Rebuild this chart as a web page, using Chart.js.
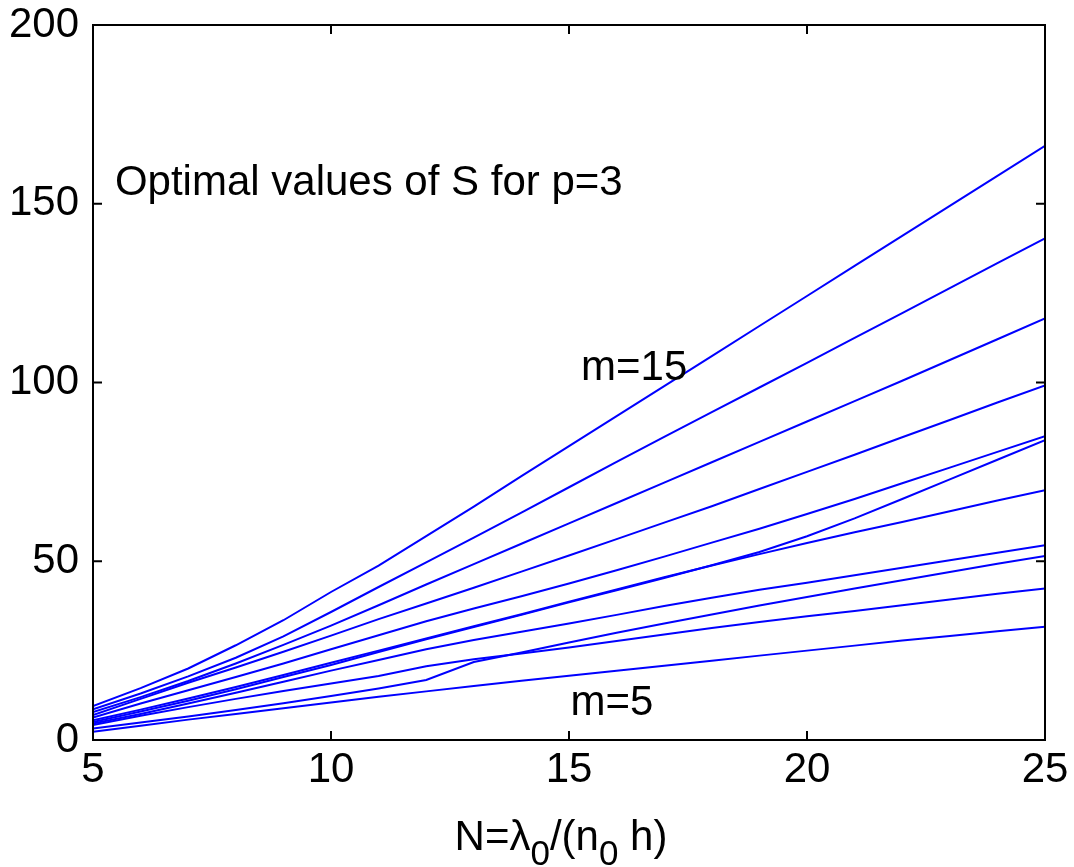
<!DOCTYPE html>
<html>
<head>
<meta charset="utf-8">
<script src="https://cdn.jsdelivr.net/npm/chart.js@4.4.1/dist/chart.umd.min.js"></script>
<style>
  html, body { margin: 0; padding: 0; background: #fff; }
  #wrap { width: 1074px; height: 867px; }
</style>
</head>
<body>
<div id="wrap"><canvas id="sChart" width="1074" height="867"></canvas></div>
<script>
// N = lambda0/(n0 h) sample points
var nValues = [5, 6, 7, 8, 9, 10, 11, 12, 13, 14, 15, 16, 17, 18, 19, 20, 21, 22, 23, 24, 25];

// optimal S for each stencil size m (p = 3)
var sM15 = [9.5, 14.5, 20.0, 26.5, 33.5, 41.4, 48.8, 57.0, 65.3, 73.8, 82.2, 90.6, 99.0, 107.4, 115.8, 124.2, 132.6, 141.0, 149.4, 157.8, 166.2];
var sM14 = [8.6, 13.0, 17.8, 23.0, 29.0, 35.8, 42.8, 49.7, 56.6, 63.6, 70.7, 77.8, 84.8, 91.7, 98.6, 105.5, 112.5, 119.4, 126.4, 133.4, 140.3];
var sM13 = [7.8, 12.0, 16.5, 21.4, 26.6, 32.0, 37.7, 43.5, 49.2, 54.9, 60.6, 66.3, 72.0, 77.7, 83.4, 89.1, 94.8, 100.5, 106.3, 112.1, 117.9];
var sM12 = [7.0, 11.5, 16.0, 20.3, 24.7, 29.2, 33.8, 38.2, 42.6, 47.1, 51.6, 56.2, 60.8, 65.4, 70.2, 75.0, 79.8, 84.7, 89.5, 94.4, 99.2];
var sM11 = [6.3, 10.2, 13.9, 17.6, 21.4, 25.4, 29.3, 33.2, 36.8, 40.2, 43.8, 47.5, 51.3, 55.2, 59.1, 63.2, 67.4, 71.8, 76.2, 80.6, 85.0];
var sM10 = [5.0, 8.0, 11.0, 14.2, 17.6, 21.0, 24.6, 28.2, 31.6, 35.0, 38.5, 41.9, 45.3, 48.9, 52.6, 57.0, 62.0, 67.4, 72.9, 78.4, 83.9];
var sM9  = [5.5, 8.5, 11.6, 14.8, 18.2, 21.6, 25.0, 28.4, 31.8, 35.2, 38.7, 42.1, 45.5, 48.8, 52.0, 55.1, 58.1, 61.0, 64.0, 67.0, 69.9];
var sM8  = [4.6, 7.3, 10.2, 13.2, 16.3, 19.4, 22.4, 25.4, 28.0, 30.3, 32.6, 35.0, 37.5, 39.8, 42.0, 44.0, 46.1, 48.2, 50.3, 52.4, 54.5];
var sM7  = [3.2, 4.9, 6.6, 8.4, 10.3, 12.3, 14.4, 16.8, 21.8, 24.5, 27.3, 30.0, 32.6, 35.1, 37.6, 40.0, 42.4, 44.7, 47.0, 49.3, 51.5];
var sM6  = [4.2, 6.8, 9.2, 11.5, 13.7, 15.8, 17.9, 20.6, 22.6, 24.2, 25.9, 27.7, 29.5, 31.3, 33.0, 34.6, 36.1, 37.7, 39.3, 40.9, 42.4];
var sM5  = [2.3, 4.0, 5.7, 7.3, 8.9, 10.5, 12.1, 13.6, 15.1, 16.6, 18.0, 19.4, 20.8, 22.2, 23.6, 25.0, 26.4, 27.8, 29.1, 30.4, 31.7];

var seriesNames = ["m=15", "m=14", "m=13", "m=12", "m=11", "m=10", "m=9", "m=8", "m=7", "m=6", "m=5"];
var seriesVals = [sM15, sM14, sM13, sM12, sM11, sM10, sM9, sM8, sM7, sM6, sM5];

var xTicks = [5, 10, 15, 20, 25];
var yTicks = [0, 50, 100, 150, 200];

var FONT = "'Liberation Sans', Arial, Helvetica, sans-serif";

var datasets = [];
for (var i = 0; i < seriesVals.length; i++) {
	var pts = [];
	for (var j = 0; j < nValues.length; j++) {
		pts.push({x: nValues[j], y: seriesVals[i][j]});
	}
	datasets.push({
		label: seriesNames[i],
		data: pts,
		borderColor: "#0000ff",
		borderWidth: 2,
		pointRadius: 0,
		fill: false,
		tension: 0
	});
}

// box, inward ticks on every side, axis label and text notes
var framePlugin = {
	id: "frame",
	afterDraw: function(chart) {
		var ctx = chart.ctx;
		var a = chart.chartArea;
		var xs = chart.scales.x, ys = chart.scales.y;
		ctx.save();
		ctx.strokeStyle = "#000";
		ctx.lineWidth = 2;
		ctx.strokeRect(a.left, a.top, a.right - a.left, a.bottom - a.top);

		var tl = 9;
		ctx.beginPath();
		xTicks.forEach(function(v) {
			var px = xs.getPixelForValue(v);
			ctx.moveTo(px, a.bottom); ctx.lineTo(px, a.bottom - tl);
			ctx.moveTo(px, a.top); ctx.lineTo(px, a.top + tl);
		});
		yTicks.forEach(function(v) {
			var py = ys.getPixelForValue(v);
			ctx.moveTo(a.left, py); ctx.lineTo(a.left + tl, py);
			ctx.moveTo(a.right, py); ctx.lineTo(a.right - tl, py);
		});
		ctx.stroke();

		ctx.fillStyle = "#000";
		ctx.textBaseline = "alphabetic";

		// x axis label with subscripts
		var parts = [["N=\u03bb", 0], ["0", 1], ["/(n", 0], ["0", 1], [" h)", 0]];
		var total = 0;
		parts.forEach(function(p) {
			ctx.font = (p[1] ? "35px " : "42px ") + FONT;
			total += ctx.measureText(p[0]).width;
		});
		var cx = (a.left + a.right) / 2 - 8;
		var x0 = cx - total / 2;
		var base = 850;
		ctx.textAlign = "left";
		parts.forEach(function(p) {
			ctx.font = (p[1] ? "35px " : "42px ") + FONT;
			ctx.fillText(p[0], x0, p[1] ? base + 15 : base);
			x0 += ctx.measureText(p[0]).width;
		});

		// notes inside the axes
		ctx.font = "42px " + FONT;
		ctx.textAlign = "left";
		ctx.fillText("Optimal values of S for p=3", xs.getPixelForValue(5.46), ys.getPixelForValue(152.4));
		ctx.textAlign = "center";
		ctx.fillText("m=15", xs.getPixelForValue(16.37), ys.getPixelForValue(100.7));
		ctx.fillText("m=5", xs.getPixelForValue(15.9), ys.getPixelForValue(7.0));
		ctx.restore();
	}
};

var ctx1 = document.getElementById("sChart");
var chart1 = new Chart(ctx1, {
	type: "line",
	data: { datasets: datasets },
	options: {
		responsive: false,
		animation: false,
		devicePixelRatio: 1,
		layout: { padding: { left: 0, top: 25, right: 29, bottom: 0 } },
		plugins: {
			legend: { display: false },
			tooltip: { enabled: false },
			title: { display: false }
		},
		scales: {
			x: {
				type: "linear",
				min: 5,
				max: 25,
				afterFit: function(s) { s.height = 127; s.paddingLeft = 0; s.paddingRight = 0; },
				afterBuildTicks: function(s) { s.ticks = xTicks.map(function(v) { return {value: v}; }); },
				grid: { display: false, drawTicks: false },
				border: { display: false },
				ticks: { color: "#000", font: { size: 42, family: FONT }, padding: 5, maxRotation: 0 }
			},
			y: {
				type: "linear",
				min: 0,
				max: 200,
				afterFit: function(s) { s.width = 93; s.paddingTop = 0; s.paddingBottom = 0; },
				afterBuildTicks: function(s) { s.ticks = yTicks.map(function(v) { return {value: v}; }); },
				grid: { display: false, drawTicks: false },
				border: { display: false },
				ticks: { color: "#000", font: { size: 42, family: FONT }, padding: 14 }
			}
		}
	},
	plugins: [framePlugin]
});
</script>
</body>
</html>
